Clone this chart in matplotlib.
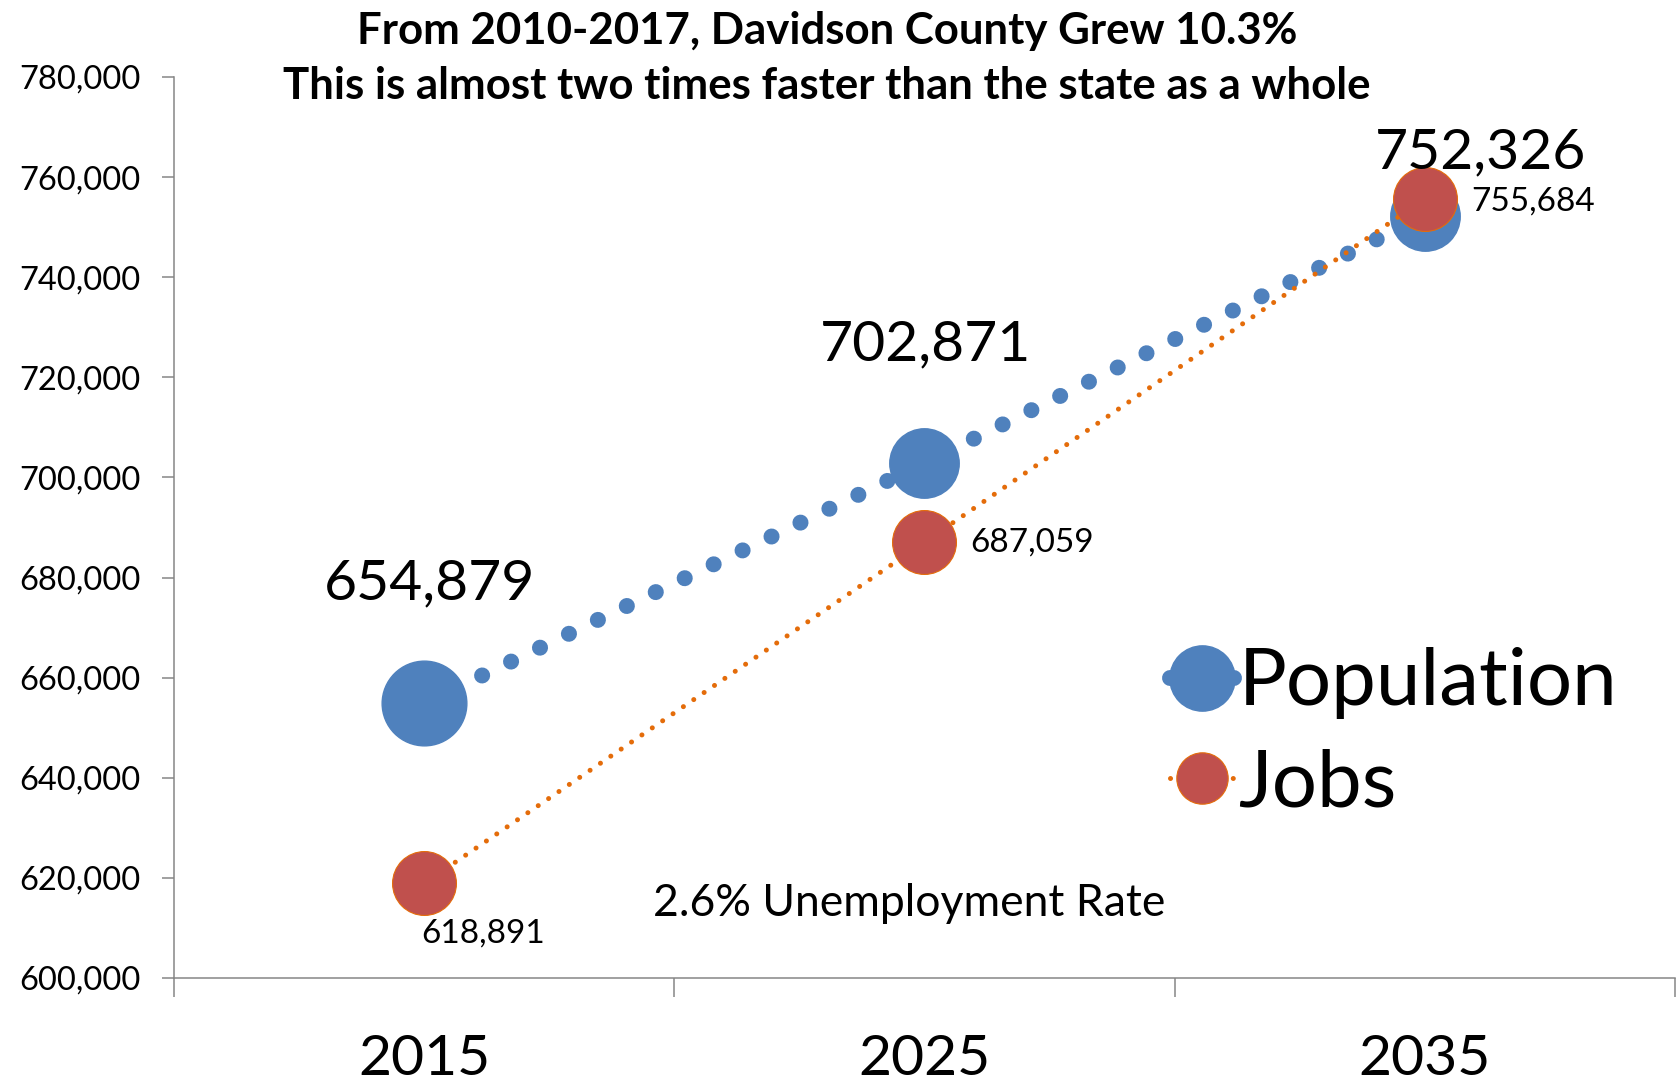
import matplotlib
matplotlib.use("Agg")
import matplotlib.pyplot as plt
from matplotlib.lines import Line2D
from matplotlib.ticker import FuncFormatter, FixedLocator
import numpy as np

plt.rcParams['font.family'] = ['Lato', 'DejaVu Sans']

years = ['2015', '2025', '2035']
population = [654879, 702871, 752326]
jobs = [618891, 687059, 755684]

blue = '#4F81BD'
red = '#C0504D'
orange = '#E46C0A'
grey = '#868686'

fig = plt.figure(figsize=(16.81, 10.83), dpi=100)
ax = fig.add_axes([174 / 1681, 1 - 978 / 1083, 1501 / 1681, 901 / 1083])

x = np.arange(len(years))

# population: fat round dots, marker size shrinks toward 2035
ax.plot(x, population, color=blue, lw=11.5, linestyle=(0, (0.01, 2.0)),
        dash_capstyle='round', zorder=2)
for xi, yi, ms in zip(x, population, [61, 50, 50]):
    ax.plot(xi, yi, marker='o', ms=ms, color=blue, mec=blue, zorder=3)

# jobs: thin orange dotted line, red markers with orange rim
ax.plot(x, jobs, color=orange, lw=3.6, linestyle=(0, (0.01, 2.5)),
        dash_capstyle='round', zorder=4)
ax.plot(x, jobs, linestyle='none', marker='o', ms=46, color=red,
        mec=orange, mew=0.8, zorder=5)

pop_offsets = [(3.6, 85.7), (0.7, 85), (40, 45)]
for xi, yi, off in zip(x, population, pop_offsets):
    ax.annotate(f'{yi:,}', (xi, yi), xytext=off, textcoords='offset points',
                ha='center', va='center', fontsize=41, zorder=6)

job_offsets = [(42.5, -36), (77.8, 0), (77.8, -2)]
for xi, yi, off in zip(x, jobs, job_offsets):
    ax.annotate(f'{yi:,}', (xi, yi), xytext=off, textcoords='offset points',
                ha='center', va='center', fontsize=24, zorder=6)

ax.text(0.4897, 0.0832, '2.6% Unemployment Rate', transform=ax.transAxes,
        ha='center', va='center', fontsize=32)

ax.set_xlim(-0.5, 2.5)
ax.set_ylim(600000, 780000)
ax.set_yticks(np.arange(600000, 780001, 20000))
ax.yaxis.set_major_formatter(FuncFormatter(lambda v, p: f'{int(v):,}'))
ax.tick_params(axis='y', labelsize=23.5, length=9, width=1.1, color=grey, pad=15)

ax.xaxis.set_major_locator(FixedLocator([-0.5, 0.5, 1.5, 2.5]))
ax.xaxis.set_major_formatter(FuncFormatter(lambda v, p: ''))
ax.xaxis.set_minor_locator(FixedLocator(x))
ax.set_xticklabels(years, minor=True)
ax.tick_params(axis='x', which='major', length=14, width=1.1, color=grey)
ax.tick_params(axis='x', which='minor', length=0, labelsize=41, pad=40)

for side in ['top', 'right']:
    ax.spines[side].set_visible(False)
for side in ['left', 'bottom']:
    ax.spines[side].set_color(grey)
    ax.spines[side].set_linewidth(1.1)

handles = [
    Line2D([], [], color=blue, lw=11.5, solid_capstyle='round', marker='o',
           ms=47, mec=blue),
    Line2D([], [], color=orange, lw=3.6, linestyle=(0, (0.01, 2.5)),
           dash_capstyle='round', marker='o', ms=37, mfc=red, mec=orange,
           mew=0.8),
]
ax.legend(handles, ['Population', 'Jobs'], loc='center left',
          bbox_to_anchor=(0.616, 0.271), fontsize=57.5, frameon=False,
          handlelength=0.8, handletextpad=0.05, labelspacing=0.36)

fig.text(0.492, 0.946,
         'From 2010-2017, Davidson County Grew 10.3%\n'
         'This is almost two times faster than the state as a whole',
         ha='center', va='center', fontsize=31.5, fontweight='bold',
         linespacing=1.45)

fig.savefig('out.png', dpi=100)
